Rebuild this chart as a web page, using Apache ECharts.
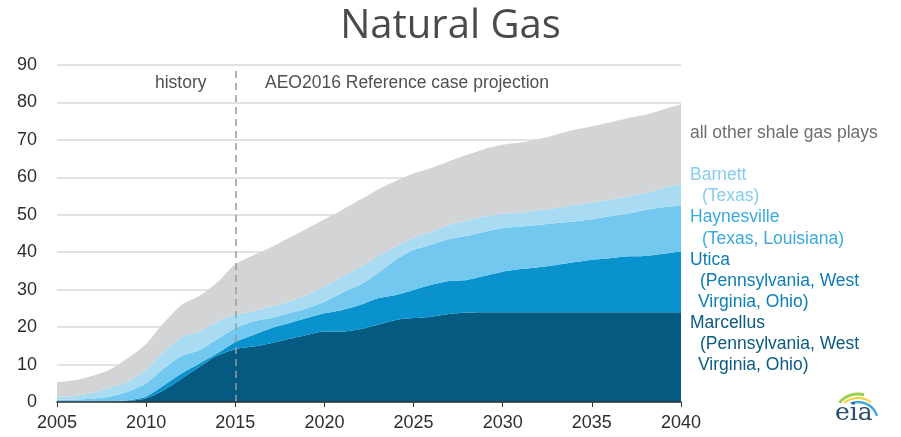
<!DOCTYPE html>
<html>
<head>
<meta charset="utf-8">
<script src="https://cdn.jsdelivr.net/npm/echarts@6/dist/echarts.min.js"></script>
<style>
  html, body { margin: 0; padding: 0; background: #ffffff; }
  #chart { width: 901px; height: 437px; }
</style>
</head>
<body>
<div id="chart"></div>
<script>
// Shale gas production by play, history and projection (stacked)
const years = [];
for (let y = 2005; y <= 2040; y++) years.push(String(y));

const marcellus = [0, 0, 0, 0.1, 0.3, 1.0, 3.2, 6.3, 9.4, 12.4, 14.1, 14.8, 15.7, 16.8, 17.9, 18.8, 18.8, 19.4, 20.6, 21.9, 22.4, 22.8, 23.5, 23.9, 24.0, 24.0, 24.0, 24.0, 24.0, 24.0, 24.0, 24.0, 24.0, 24.0, 24.0, 24.0];
const utica = [0.1, 0.1, 0.1, 0.1, 0.2, 0.5, 1.3, 1.4, 0.9, 0.6, 1.9, 3.1, 4.0, 4.2, 4.5, 4.9, 5.8, 6.5, 7.1, 6.7, 7.5, 8.5, 8.8, 8.7, 9.7, 10.8, 11.5, 12.0, 12.6, 13.3, 14.0, 14.4, 14.9, 15.0, 15.6, 16.2];
const haynesville = [0.5, 0.6, 0.8, 1.3, 2.3, 3.5, 4.5, 4.6, 3.6, 3.8, 3.7, 3.6, 2.7, 2.7, 2.6, 3.1, 4.6, 5.4, 6.7, 9.4, 10.7, 10.7, 11.2, 11.8, 11.8, 11.6, 11.4, 11.3, 11.2, 10.9, 10.8, 11.2, 11.4, 12.3, 12.4, 12.2];
const barnett = [0.8, 0.9, 1.6, 2.4, 2.7, 3.6, 4.5, 5.0, 4.9, 4.7, 3.7, 2.7, 3.1, 3.1, 3.6, 4.0, 4.3, 4.7, 4.5, 3.5, 3.2, 3.5, 3.8, 4.1, 4.1, 3.9, 3.7, 3.9, 4.0, 4.5, 4.5, 4.4, 4.6, 4.5, 5.1, 5.8];
const otherPlays = [3.9, 4.2, 4.5, 4.8, 6.3, 6.9, 7.7, 8.7, 9.6, 10.5, 13.4, 14.9, 15.8, 17.0, 17.6, 18.0, 17.8, 18.0, 17.8, 17.5, 17.2, 17.0, 17.0, 17.5, 18.0, 18.4, 18.7, 19.0, 19.6, 20.0, 20.3, 20.7, 20.9, 20.9, 21.0, 21.3];

const yTicks = [0, 10, 20, 30, 40, 50, 60, 70, 80, 90];

const colors = {
  marcellus: '#045a80',
  utica: '#0a92cf',
  haynesville: '#72c8ee',
  barnett: '#a9dbf3',
  other: '#d3d4d6'
};

const font = '"Liberation Sans", Arial, sans-serif';

function layer(name, data, color, extra) {
  return Object.assign({
    name: name,
    type: 'line',
    stack: 'total',
    data: data,
    symbol: 'none',
    smooth: 0.25,
    lineStyle: { width: 0 },
    areaStyle: { color: color, opacity: 1 },
    itemStyle: { color: color },
    emphasis: { disabled: true },
    z: 2
  }, extra || {});
}

const chart = echarts.init(document.getElementById('chart'), null, { renderer: 'canvas' });

const labelLines = [
  { text: 'all other shale gas plays', x: 690, y: 134, color: '#6e6e6e' },
  { text: 'Barnett', x: 690, y: 176, color: '#86ccee' },
  { text: '(Texas)', x: 702, y: 197, color: '#86ccee' },
  { text: 'Haynesville', x: 690, y: 218, color: '#3aaade' },
  { text: '(Texas, Louisiana)', x: 702, y: 240, color: '#3aaade' },
  { text: 'Utica', x: 690, y: 261, color: '#0d7eb4' },
  { text: '(Pennsylvania, West', x: 700, y: 282, color: '#0d7eb4' },
  { text: 'Virginia, Ohio)', x: 698, y: 303, color: '#0d7eb4' },
  { text: 'Marcellus', x: 690, y: 324, color: '#0b5b80' },
  { text: '(Pennsylvania, West', x: 700, y: 345, color: '#0b5b80' },
  { text: 'Virginia, Ohio)', x: 698, y: 366, color: '#0b5b80' }
];

const graphics = labelLines.map(l => ({
  type: 'text',
  left: l.x,
  top: l.y - 10,
  style: { text: l.text, fill: l.color, font: '17.5px ' + font }
}));

graphics.push(
  { type: 'text', left: 155, top: 74, style: { text: 'history', fill: '#505050', font: '17.5px ' + font } },
  { type: 'text', left: 265, top: 74, style: { text: 'AEO2016 Reference case projection', fill: '#505050', font: '17.5px ' + font } },
  // eia logo
  { type: 'arc', shape: { cx: 858, cy: 418, r: 24, startAngle: -Math.PI * 0.78, endAngle: -Math.PI * 0.42 }, style: { stroke: '#9bd04a', lineWidth: 3, fill: null } },
  { type: 'arc', shape: { cx: 858, cy: 420, r: 22, startAngle: -Math.PI * 0.72, endAngle: -Math.PI * 0.30 }, style: { stroke: '#f2d23a', lineWidth: 2, fill: null } },
  { type: 'arc', shape: { cx: 858, cy: 422, r: 20, startAngle: -Math.PI * 0.62, endAngle: -Math.PI * 0.10 }, style: { stroke: '#3fa9dc', lineWidth: 2.5, fill: null } },
  { type: 'text', left: 835, top: 401, style: { text: 'eia', fill: '#2a4f6e', font: '25px "DejaVu Serif", "Liberation Serif", serif' } }
);

chart.setOption({
  animation: false,
  backgroundColor: '#ffffff',
  title: {
    text: 'Natural Gas',
    left: 'center',
    top: 2,
    textStyle: { fontFamily: '"Open Sans", sans-serif', fontWeight: 'normal', fontSize: 40, color: '#4a4a4a' }
  },
  grid: { left: 57, right: 220, top: 65, bottom: 35, containLabel: false },
  xAxis: {
    type: 'category',
    data: years,
    boundaryGap: false,
    axisLine: { show: true, lineStyle: { color: '#333333', width: 1.5 } },
    axisTick: { show: true, interval: 4, length: 5, lineStyle: { color: '#333333' } },
    axisLabel: { interval: 4, color: '#2e2e2e', fontSize: 18, fontFamily: font, margin: 12 },
    splitLine: { show: false },
    z: 5
  },
  yAxis: {
    type: 'value',
    min: yTicks[0],
    max: yTicks[yTicks.length - 1],
    interval: 10,
    axisLine: { show: false },
    axisTick: { show: false },
    axisLabel: { color: '#2e2e2e', fontSize: 18, fontFamily: font, margin: 20 },
    splitLine: { show: true, lineStyle: { color: '#d9d9d9', width: 1.5 } }
  },
  graphic: graphics,
  series: [
    layer('Marcellus', marcellus, colors.marcellus),
    layer('Utica', utica, colors.utica),
    layer('Haynesville', haynesville, colors.haynesville),
    layer('Barnett', barnett, colors.barnett),
    layer('all other shale gas plays', otherPlays, colors.other, {
      markLine: {
        silent: true,
        symbol: 'none',
        label: { show: false },
        lineStyle: { color: '#9a9a9a', type: [7, 5], width: 1.5 },
        data: [[{ coord: ['2015', 0] }, { coord: ['2015', 88.5] }]]
      }
    })
  ]
});
</script>
</body>
</html>
